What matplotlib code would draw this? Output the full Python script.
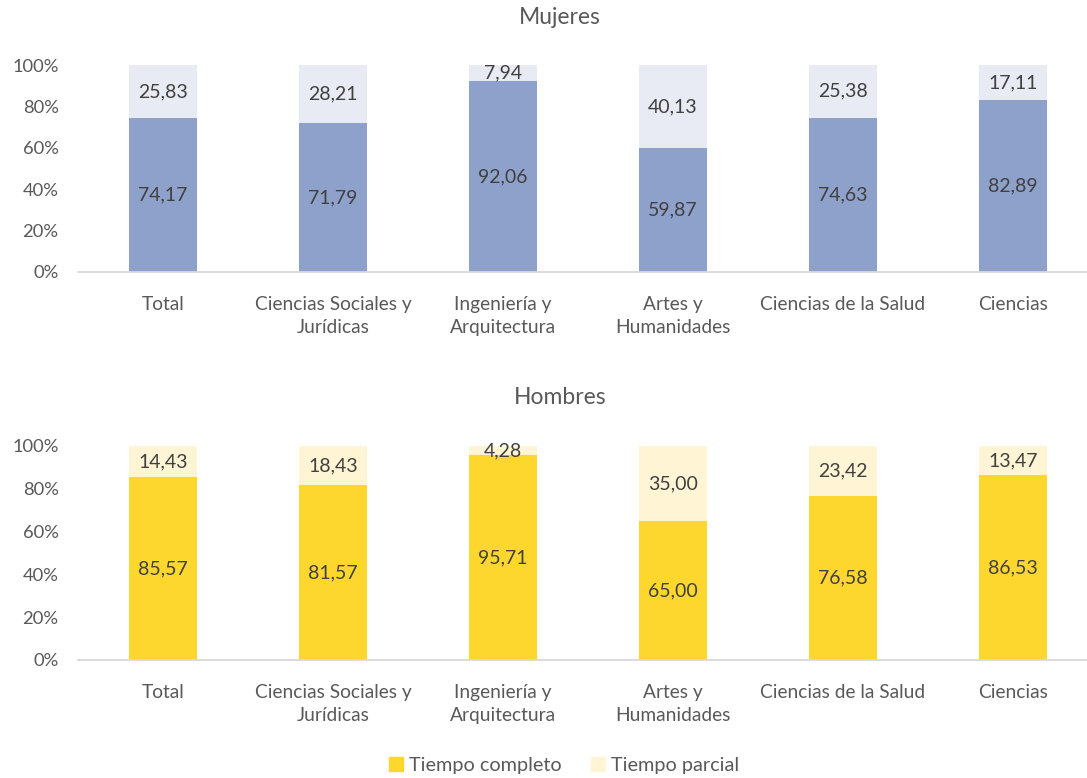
import matplotlib.pyplot as plt
import numpy as np
from matplotlib.patches import Patch
from matplotlib.ticker import PercentFormatter

plt.rcParams['font.family'] = ['Lato', 'DejaVu Sans']

categorias = ['Total', 'Ciencias Sociales y\nJurídicas', 'Ingeniería y\nArquitectura',
              'Artes y\nHumanidades', 'Ciencias de la Salud', 'Ciencias']
mujeres_completo = [74.17, 71.79, 92.06, 59.87, 74.63, 82.89]
mujeres_parcial = [25.83, 28.21, 7.94, 40.13, 25.38, 17.11]
hombres_completo = [85.57, 81.57, 95.71, 65.00, 76.58, 86.53]
hombres_parcial = [14.43, 18.43, 4.28, 35.00, 23.42, 13.47]

W, H = 1087, 778
fig = plt.figure(figsize=(W/100, H/100), dpi=100)

tick_col = '#595959'
lab_col = '#404040'


def panel(top, bottom, completo, parcial, c1, c2, titulo, ty):
    ax = fig.add_axes([78/W, 1-bottom/H, (W-78)/W, (bottom-top)/H])
    x = np.arange(len(categorias))
    ax.bar(x, completo, width=0.4, color=c1, zorder=2)
    ax.bar(x, parcial, width=0.4, bottom=completo, color=c2, zorder=2)
    for i in range(len(x)):
        ax.text(x[i], completo[i]/2, f'{completo[i]:.2f}'.replace('.', ','),
                ha='center', va='center', fontsize=14, color=lab_col)
        ax.text(x[i], completo[i]+parcial[i]/2, f'{parcial[i]:.2f}'.replace('.', ','),
                ha='center', va='center', fontsize=14, color=lab_col)
    ax.set_xlim(-0.5, 5.5-11/170)
    ax.set_ylim(0, 100)
    ax.set_yticks(np.arange(0, 101, 20))
    ax.yaxis.set_major_formatter(PercentFormatter(decimals=0))
    ax.set_xticks(x)
    ax.set_xticklabels(categorias, fontsize=13.8, color=tick_col, linespacing=1.45)
    ax.tick_params(axis='y', labelsize=13.2, labelcolor=tick_col, length=0, pad=14)
    ax.tick_params(axis='x', length=0, pad=17)
    for s in ['top', 'right', 'left']:
        ax.spines[s].set_visible(False)
    ax.spines['bottom'].set_color('#D9D9D9')
    ax.spines['bottom'].set_linewidth(1.3)
    fig.text(560/W, 1-ty/H, titulo, ha='center', va='center', fontsize=16.5, color=tick_col)
    return ax


panel(65, 272, mujeres_completo, mujeres_parcial, '#8EA1CB', '#E9EBF4', 'Mujeres', 18)
panel(446, 660, hombres_completo, hombres_parcial, '#FED72E', '#FFF5D5', 'Hombres', 398)

handles = [Patch(color='#FED72E', label='Tiempo completo'),
           Patch(color='#FFF5D5', label='Tiempo parcial')]
fig.legend(handles=handles, loc='center', bbox_to_anchor=(564/W, 1-765/H), ncol=2,
           frameon=False, fontsize=14.3, labelcolor=tick_col, handlelength=0.7,
           handleheight=0.7, handletextpad=0.3, columnspacing=1.5)

fig.savefig('out.png', dpi=100)
